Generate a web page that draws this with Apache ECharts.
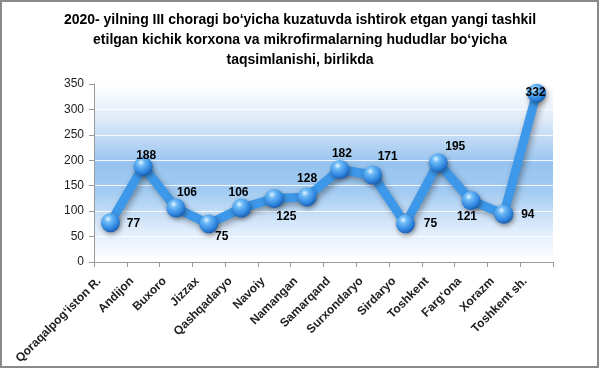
<!DOCTYPE html>
<html><head><meta charset="utf-8">
<script src="https://cdn.jsdelivr.net/npm/echarts@6/dist/echarts.min.js"></script>
<style>html,body{margin:0;padding:0;background:#fff}#c{width:600px;height:370px}</style>
</head><body><div id="c"></div>
<script>
const titleText = "2020- yilning III choragi bo\u2018yicha kuzatuvda ishtirok etgan yangi tashkil\netilgan kichik korxona va mikrofirmalarning hududlar bo\u2018yicha\ntaqsimlanishi, birlikda";
const categories = ["Qoraqalpog\u2018iston R.","Andijon","Buxoro","Jizzax","Qashqadaryo","Navoiy","Namangan","Samarqand","Surxondaryo","Sirdaryo","Toshkent","Farg\u2018ona","Xorazm","Toshkent sh."];
const values = [77,188,106,75,106,125,128,182,171,75,195,121,94,332];
const yTicks = [0,50,100,150,200,250,300,350];

// label offsets (styling only)
const labelOffsets = [[23,1],[3,-11],[11,-15],[13,13],[-3,-15],[12,18],[0,-18],[2,-16],[15,-18],[25,0],[17,-16],[-4,16],[24,0],[-1,0]];

const chart = echarts.init(document.getElementById('c'), null, {renderer:'canvas'});
const data = values.map((v,i)=>({value:v,label:{offset:labelOffsets[i]}}));
chart.setOption({
  animation:false,
  backgroundColor:'#fff',
  title:{text:titleText,left:'center',top:5,textStyle:{fontFamily:'Liberation Sans',fontWeight:'bold',fontSize:14,lineHeight:20,color:'#000'}},
  grid:{left:94,right:47,top:84,bottom:108,show:true,borderWidth:0,
    backgroundColor:new echarts.graphic.LinearGradient(0,0,0,1,[
      {offset:0,color:'#ffffff'},
      {offset:0.2,color:'#dfeaf8'},
      {offset:0.45,color:'#96c3ef'},
      {offset:0.6,color:'#a2cbf2'},
      {offset:0.82,color:'#dfecfb'},
      {offset:1,color:'#ffffff'}])},
  xAxis:{type:'category',data:categories,boundaryGap:true,
    axisLine:{lineStyle:{color:'#999'}},axisTick:{show:true,length:5,lineStyle:{color:'#999'}},
    axisLabel:{rotate:45,interval:0,fontFamily:'Liberation Sans',fontWeight:'bold',fontSize:12,color:'#222',margin:6,padding:[0,16,0,0]}},
  yAxis:{type:'value',min:yTicks[0],max:yTicks[yTicks.length-1],interval:50,
    axisLine:{show:true,lineStyle:{color:'#999'}},axisTick:{show:true,length:5,lineStyle:{color:'#999'}},
    splitLine:{lineStyle:{color:'rgba(255,255,255,0.85)',width:1}},
    axisLabel:{fontFamily:'Liberation Sans',fontSize:12,color:'#222',margin:10}},
  series:[{type:'line',data:data,
    lineStyle:{color:'#3d98ea',width:9,shadowColor:'rgba(0,0,0,0.35)',shadowBlur:6,shadowOffsetX:2,shadowOffsetY:3},
    symbol:'circle',symbolSize:19,
    itemStyle:{color:new echarts.graphic.RadialGradient(0.38,0.3,0.75,[
      {offset:0,color:'#e4f4ff'},{offset:0.25,color:'#6cbaf7'},{offset:0.7,color:'#2f86e0'},{offset:1,color:'#1656a8'}]),
      borderWidth:0,shadowColor:'rgba(0,0,0,0.4)',shadowBlur:5,shadowOffsetX:1,shadowOffsetY:2},
    label:{show:true,position:'inside',fontFamily:'Liberation Sans',fontWeight:'bold',fontSize:12,color:'#000'},
    z:3}],
  graphic:[{type:'rect',shape:{x:1,y:1,width:597,height:366},style:{fill:'none',stroke:'#8a8a8a',lineWidth:2},silent:true,z:100}]
});
</script></body></html>
